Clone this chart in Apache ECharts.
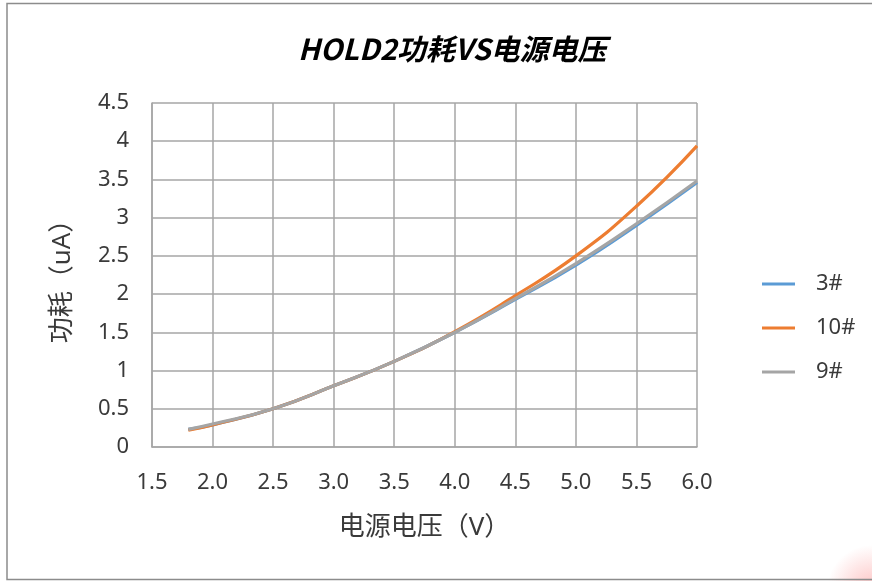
<!DOCTYPE html>
<html>
<head>
<meta charset="utf-8">
<script src="https://cdn.jsdelivr.net/npm/echarts@6/dist/echarts.min.js"></script>
<style>
  html, body { margin: 0; padding: 0; background: #fff; }
  #chart { width: 872px; height: 581px; }
</style>
</head>
<body>
<div id="chart"></div>
<script>
// Supply voltage (V) at each measurement
const voltages = [1.8, 2.0, 2.5, 3.0, 3.5, 4.0, 4.5, 5.0, 5.5, 6.0];
// HOLD2 current consumption (uA) per sample
const sample3 = [0.23, 0.29, 0.50, 0.80, 1.12, 1.50, 1.93, 2.38, 2.90, 3.46];
const sample10 = [0.22, 0.29, 0.50, 0.80, 1.12, 1.51, 1.98, 2.50, 3.15, 3.94];
const sample9 = [0.23, 0.30, 0.50, 0.80, 1.12, 1.50, 1.94, 2.40, 2.92, 3.48];
const seriesNames = ['3#', '10#', '9#'];
const seriesColors = ['#5B9BD5', '#ED7D31', '#A5A5A5'];

const pairs = (ys) => voltages.map((v, i) => [v, ys[i]]);
const seriesData = [sample3, sample10, sample9];

const FONT = '"Noto Sans", "Noto Sans CJK SC", sans-serif';
const gridColor = '#A6A6A6';
const textColor = '#3A3A3A';

const chart = echarts.init(document.getElementById('chart'), null, { renderer: 'canvas' });
chart.setOption({
  backgroundColor: '#ffffff',
  animation: false,
  title: {
    text: 'HOLD2功耗VS电源电压',
    left: 293,
    top: 29,
    textStyle: {
      fontFamily: '"Noto Sans CJK SC", sans-serif',
      fontSize: 29,
      fontWeight: 'bold',
      fontStyle: 'italic',
      color: '#000000'
    }
  },
  grid: { left: 152, right: 175, top: 103, bottom: 134 },
  legend: {
    orient: 'vertical',
    left: 757,
    top: 268,
    itemWidth: 33,
    itemHeight: 3,
    itemGap: 22,
    icon: 'rect',
    data: seriesNames,
    textStyle: { fontFamily: FONT, fontSize: 22, color: textColor, padding: [0, 0, 0, 16] }
  },
  xAxis: {
    type: 'value',
    min: 1.5,
    max: 6.0,
    interval: 0.5,
    name: '电源电压（V）',
    nameLocation: 'middle',
    nameGap: 68,
    nameTextStyle: { fontFamily: FONT, fontSize: 26, color: textColor },
    axisLine: { show: true, lineStyle: { color: gridColor, width: 1.5 } },
    axisTick: { show: false },
    axisLabel: {
      margin: 25,
      fontFamily: FONT,
      fontSize: 22,
      color: textColor,
      formatter: (v) => v.toFixed(1)
    },
    splitLine: { show: true, lineStyle: { color: gridColor, width: 1.5 } }
  },
  yAxis: {
    type: 'value',
    min: 0,
    max: 4.5,
    interval: 0.5,
    name: '功耗（uA）',
    nameLocation: 'middle',
    nameGap: 76,
    nameTextStyle: { fontFamily: FONT, fontSize: 26, color: textColor },
    axisLine: { show: true, lineStyle: { color: gridColor, width: 1.5 } },
    axisTick: { show: false },
    axisLabel: { margin: 23, fontFamily: FONT, fontSize: 22, color: textColor },
    splitLine: { show: true, lineStyle: { color: gridColor, width: 1.5 } }
  },
  series: seriesNames.map((name, i) => ({
    name: name,
    type: 'line',
    smooth: true,
    showSymbol: false,
    symbol: 'none',
    color: seriesColors[i],
    lineStyle: { width: 3.2, color: seriesColors[i] },
    data: pairs(seriesData[i]),
    z: 2 + i
  })),
  graphic: [
    {
      type: 'rect',
      silent: true,
      shape: { x: 7, y: 3.5, width: 880, height: 576 },
      style: { fill: 'none', stroke: '#8C8C8C', lineWidth: 1.5 },
      z: 100
    },
    {
      type: 'circle',
      silent: true,
      shape: { cx: 872, cy: 590, r: 45 },
      style: {
        fill: {
          type: 'radial', x: 0.5, y: 0.5, r: 0.5,
          colorStops: [
            { offset: 0, color: 'rgba(250,120,120,0.45)' },
            { offset: 1, color: 'rgba(250,120,120,0)' }
          ]
        }
      },
      z: 99
    }
  ]
});
</script>
</body>
</html>
